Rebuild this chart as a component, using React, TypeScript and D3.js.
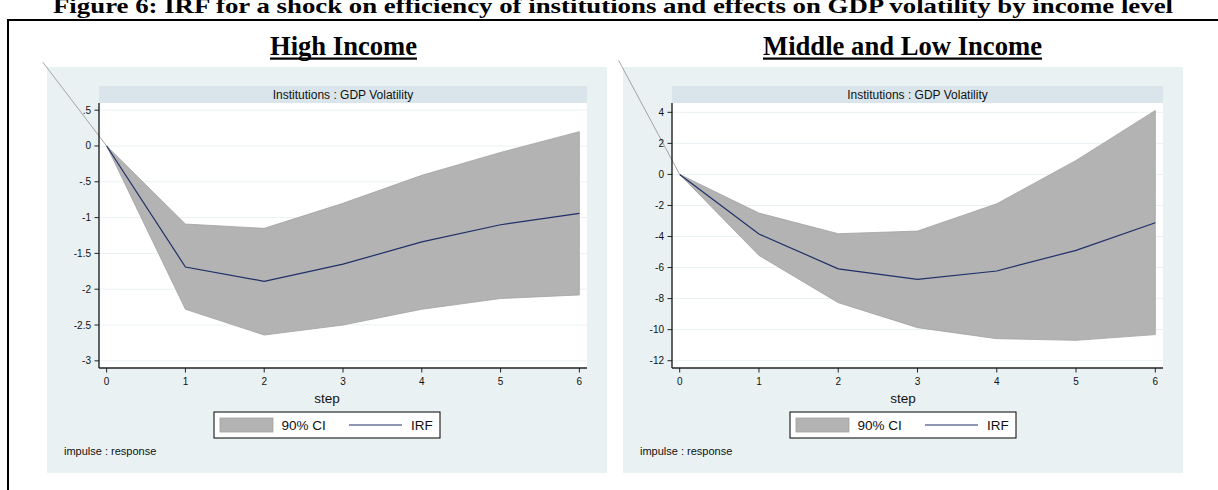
import React from 'react';
import * as d3 from 'd3';

// impulse response steps
const steps = [0, 1, 2, 3, 4, 5, 6];

// High income panel
const highIrf = [0, -1.69, -1.89, -1.65, -1.34, -1.1, -0.94];
const highLower = [0, -2.28, -2.64, -2.5, -2.28, -2.13, -2.08];
const highUpper = [0, -1.09, -1.15, -0.8, -0.41, -0.09, 0.2];
const highTicks = [0.5, 0, -0.5, -1, -1.5, -2, -2.5, -3];
const highTickLabels = ['.5', '0', '-.5', '-1', '-1.5', '-2', '-2.5', '-3'];
const highStray = [-0.81, 1.17];

// Middle and low income panel
const midIrf = [0, -3.84, -6.08, -6.76, -6.22, -4.89, -3.11];
const midLower = [0, -5.22, -8.26, -9.87, -10.58, -10.69, -10.32];
const midUpper = [0, -2.49, -3.82, -3.65, -1.89, 0.9, 4.12];
const midTicks = [4, 2, 0, -2, -4, -6, -8, -10, -12];
const midTickLabels = ['4', '2', '0', '-2', '-4', '-6', '-8', '-10', '-12'];
const midStray = [-0.77, 7.34];

const SANS = "'Liberation Sans', Arial, Helvetica, sans-serif";
const SERIF = "'Liberation Serif', 'Times New Roman', serif";

const W = 1218;
const H = 490;

const Panel = ({ ox, plotLeft, title, titleX, titleW, irf, lower, upper, ticks, tickLabels, yDomain, stray }) => {
  const cx = ox + 280;
  const x0 = ox + plotLeft;
  const x1 = ox + 540;
  const yTop = 103;
  const yBot = 368;

  const x = d3.scaleLinear().domain([-0.097, 6.097]).range([x0, x1]);
  const y = d3.scaleLinear().domain(yDomain).range([yBot, yTop]);

  const area = d3
    .area<number>()
    .x((d, i) => x(steps[i]))
    .y0((d, i) => y(lower[i]))
    .y1((d, i) => y(upper[i]));
  const line = d3
    .line<number>()
    .x((d, i) => x(steps[i]))
    .y((d) => y(d));

  return (
    <g>
      {/* panel title */}
      <text x={titleX} y={55} textAnchor="middle" fontFamily={SERIF} fontWeight="bold" fontSize={26.5}
        textLength={titleW} lengthAdjust="spacingAndGlyphs">{title}</text>
      <rect x={titleX - titleW / 2} y={57.5} width={titleW} height={2.2} fill="#000" />

      {/* graph region */}
      <rect x={ox} y={67} width={560} height={406} fill="#eaf1f3" />
      <rect x={x0} y={86} width={x1 - x0} height={yTop - 86} fill="#d9e5ea" />
      <text x={(x0 + x1) / 2} y={98.5} textAnchor="middle" fontFamily={SANS} fontSize={12} fill="#111">
        Institutions : GDP Volatility
      </text>
      <rect x={x0} y={yTop} width={x1 - x0} height={yBot - yTop} fill="#fff" />

      {/* gridlines */}
      {ticks.map((t) => (
        <line key={'g' + t} x1={x0} x2={x1} y1={y(t)} y2={y(t)} stroke="#eaf1f3" strokeWidth={1} />
      ))}

      {/* CI band and IRF */}
      <path d={area(irf) || ''} fill="#b3b3b3" stroke="#a2a2a2" strokeWidth={0.8} />
      <path d={line(irf) || ''} fill="none" stroke="#1f2f68" strokeWidth={1.2} />

      {/* stray segment */}
      <line x1={x(stray[0])} y1={y(stray[1])} x2={x(0)} y2={y(0)} stroke="#9a9a9a" strokeWidth={0.9} />

      {/* y axis */}
      <line x1={x0} x2={x0} y1={yTop} y2={yBot} stroke="#222" strokeWidth={1.4} />
      {ticks.map((t, i) => (
        <g key={'y' + t}>
          <line x1={x0 - 4.5} x2={x0} y1={y(t)} y2={y(t)} stroke="#222" strokeWidth={1} />
          <text x={x0 - 8} y={y(t)} dy="0.35em" textAnchor="end" fontFamily={SANS} fontSize={10} fill="#111">
            {tickLabels[i]}
          </text>
        </g>
      ))}

      {/* x axis */}
      <line x1={x0} x2={x1} y1={yBot} y2={yBot} stroke="#222" strokeWidth={1.4} />
      {steps.map((s) => (
        <g key={'x' + s}>
          <line x1={x(s)} x2={x(s)} y1={yBot} y2={yBot + 4.5} stroke="#222" strokeWidth={1} />
          <text x={x(s)} y={385} textAnchor="middle" fontFamily={SANS} fontSize={10} fill="#111">
            {s}
          </text>
        </g>
      ))}
      <text x={cx} y={402.5} textAnchor="middle" fontFamily={SANS} fontSize={13.5} fill="#111">step</text>

      {/* legend */}
      <rect x={cx - 113} y={412} width={226} height={26} fill="#fff" stroke="#000" strokeWidth={1} />
      <rect x={cx - 107} y={418} width={53} height={14} fill="#b3b3b3" stroke="#a2a2a2" strokeWidth={0.8} />
      <text x={cx - 45.5} y={430} fontFamily={SANS} fontSize={13.5} fill="#111">90% CI</text>
      <line x1={cx + 22} x2={cx + 75} y1={425} y2={425} stroke="#1f2f68" strokeWidth={1.2} />
      <text x={cx + 84} y={430} fontFamily={SANS} fontSize={13.5} fill="#111">IRF</text>

      <text x={ox + 17} y={455} fontFamily={SANS} fontSize={11} fill="#111">impulse : response</text>
    </g>
  );
};

const App = () => {
  return (
    <svg width={W} height={H} style={{ position: 'absolute', left: 0, top: 0, background: '#fff' }}>
      <text x={613} y={13} textAnchor="middle" fontFamily={SERIF} fontWeight="bold" fontSize={22}
        textLength={1120} lengthAdjust="spacingAndGlyphs">
        Figure 6: IRF for a shock on efficiency of institutions and effects on GDP volatility by income level
      </text>
      <rect x={7} y={19} width={W - 7} height={2} fill="#000" />
      <rect x={7} y={19} width={2} height={H - 19} fill="#000" />

      <Panel ox={47} plotLeft={52} title="High Income" titleX={343.5} titleW={147}
        irf={highIrf} lower={highLower} upper={highUpper} ticks={highTicks} tickLabels={highTickLabels}
        yDomain={[-3.1, 0.6]} stray={highStray} />
      <Panel ox={623} plotLeft={49} title="Middle and Low Income" titleX={902.5} titleW={279}
        irf={midIrf} lower={midLower} upper={midUpper} ticks={midTicks} tickLabels={midTickLabels}
        yDomain={[-12.47, 4.6]} stray={midStray} />
    </svg>
  );
};

export default App;
